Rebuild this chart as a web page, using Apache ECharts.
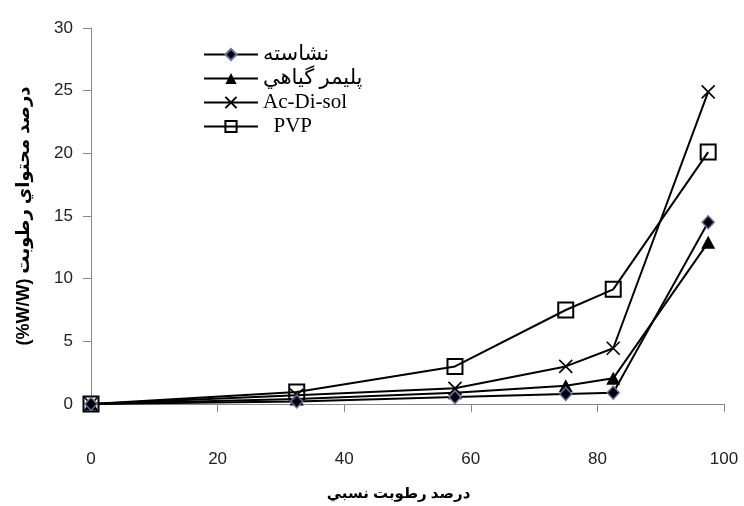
<!DOCTYPE html>
<html>
<head>
<meta charset="utf-8">
<script src="https://cdn.jsdelivr.net/npm/echarts@6/dist/echarts.min.js"></script>
<style>
  html, body { margin: 0; padding: 0; background: #fff; }
  #chart { width: 744px; height: 506px; }
</style>
</head>
<body>
<div id="chart"></div>
<script>
// Relative humidity (%) at which samples were equilibrated
const humidity = [0, 32.5, 57.5, 75, 82.5, 97.5];

// Moisture content (%W/W) for each excipient
const starch = [0, 0.2, 0.55, 0.8, 0.9, 14.5];
const plantPolymer = [0, 0.4, 0.9, 1.45, 2.05, 12.9];
const acDiSol = [0, 0.7, 1.25, 3.0, 4.45, 24.9];
const pvp = [0, 0.95, 3.0, 7.5, 9.15, 20.1];

const seriesNames = ['نشاسته', 'پليمر گياهي', 'Ac-Di-sol', 'PVP'];

const xTicks = { min: 0, max: 100, interval: 20 };
const yTicks = { min: 0, max: 30, interval: 5 };

const pairs = vals => humidity.map((h, i) => [h, vals[i]]);

const crossPath = 'path://M0,0L10,10M10,0L0,10';

const chart = echarts.init(document.getElementById('chart'), null, { renderer: 'canvas' });

const baseLine = { color: '#000', width: 2 };
const titleFont = '"Liberation Sans", "DejaVu Sans", sans-serif';
const tickFont = '"Liberation Sans", sans-serif';

chart.setOption({
  animation: false,
  backgroundColor: '#fff',
  grid: { left: 91, right: 20, top: 28, bottom: 101, containLabel: false },
  legend: {
    orient: 'vertical',
    left: 198,
    top: 39,
    padding: 5,
    itemWidth: 54,
    itemHeight: 14,
    itemGap: 3,
    formatter: name => (name === 'PVP' ? '  PVP' : name),
    textStyle: {
      fontFamily: '"Liberation Serif", "DejaVu Sans", serif',
      fontSize: 21,
      lineHeight: 21,
      color: '#000'
    },
    data: seriesNames
  },
  xAxis: {
    type: 'value',
    min: xTicks.min,
    max: xTicks.max,
    interval: xTicks.interval,
    name: 'درصد رطوبت نسبي',
    nameLocation: 'middle',
    nameGap: 82,
    nameTextStyle: { fontFamily: titleFont, fontWeight: 'bold', fontSize: 15, color: '#000', padding: [0, 18, 0, 0] },
    axisLine: { lineStyle: { color: '#888', width: 1 } },
    axisTick: { show: true, inside: false, length: 8, lineStyle: { color: '#888' } },
    axisLabel: { margin: 47, fontFamily: tickFont, fontSize: 17, color: '#222' },
    splitLine: { show: false }
  },
  yAxis: {
    type: 'value',
    min: yTicks.min,
    max: yTicks.max,
    interval: yTicks.interval,
    name: '(%W/W) درصد محتواي رطوبت',
    nameLocation: 'middle',
    nameRotate: 90,
    nameGap: 58,
    nameTextStyle: { fontFamily: titleFont, fontWeight: 'bold', fontSize: 18, color: '#000' },
    axisLine: { show: true, lineStyle: { color: '#888', width: 1 } },
    axisTick: { show: true, inside: false, length: 8, lineStyle: { color: '#888' } },
    axisLabel: { margin: 18, fontFamily: tickFont, fontSize: 17, color: '#222' },
    splitLine: { show: false }
  },
  series: [
    {
      name: seriesNames[0],
      type: 'line',
      data: pairs(starch),
      symbol: 'diamond',
      symbolSize: [12, 13],
      lineStyle: baseLine,
      itemStyle: { color: '#000', borderColor: '#6b6ba8', borderWidth: 1.5 },
      z: 4
    },
    {
      name: seriesNames[1],
      type: 'line',
      data: pairs(plantPolymer),
      symbol: 'triangle',
      symbolSize: [14, 13],
      lineStyle: baseLine,
      itemStyle: { color: '#000', borderColor: '#000', borderWidth: 0 },
      z: 3
    },
    {
      name: seriesNames[2],
      type: 'line',
      data: pairs(acDiSol),
      symbol: crossPath,
      symbolSize: 13,
      lineStyle: baseLine,
      itemStyle: { color: 'transparent', borderColor: '#000', borderWidth: 1.6 },
      z: 2
    },
    {
      name: seriesNames[3],
      type: 'line',
      data: pairs(pvp),
      symbol: 'rect',
      symbolSize: 15,
      lineStyle: baseLine,
      itemStyle: { color: 'transparent', borderColor: '#000', borderWidth: 2 },
      z: 1
    }
  ]
});
</script>
</body>
</html>
